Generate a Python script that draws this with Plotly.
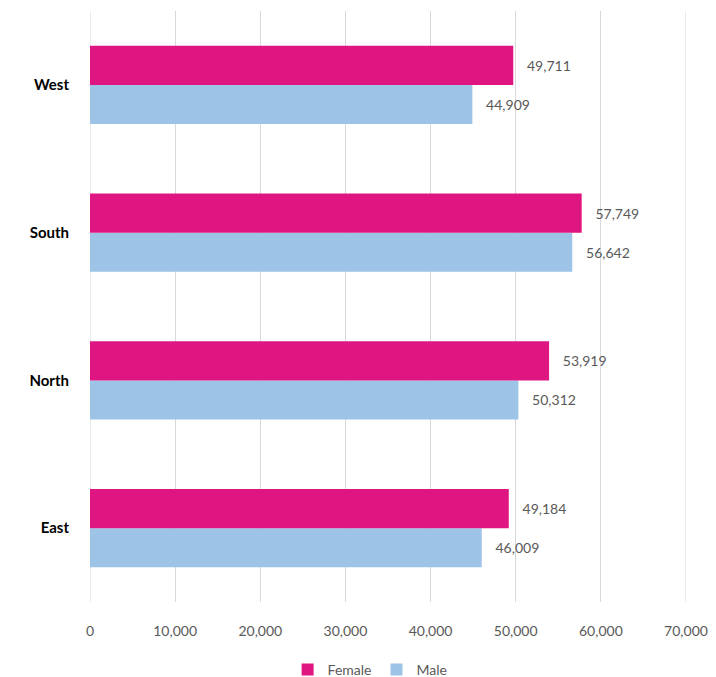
import plotly.graph_objects as go

regions = ["East", "North", "South", "West"]
female = [49184, 53919, 57749, 49711]
male = [46009, 50312, 56642, 44909]
x_ticks = [0, 10000, 20000, 30000, 40000, 50000, 60000, 70000]

FEMALE_COLOR = "#DF1681"
MALE_COLOR = "#9DC3E6"
TEXT_GRAY = "#595959"
GRID_GRAY = "#D9D9D9"
FONT = "Lato, Carlito, Calibri, sans-serif"

fig = go.Figure()

# Male first so Female sits on top within each region group
fig.add_trace(go.Bar(
    y=regions, x=male, name="Male", orientation="h",
    marker=dict(color=MALE_COLOR, line=dict(width=0)),
    texttemplate="\u00a0\u00a0\u00a0%{x:,}", textposition="outside",
    textfont=dict(size=14, color=TEXT_GRAY, family=FONT),
    cliponaxis=False,
))
fig.add_trace(go.Bar(
    y=regions, x=female, name="Female", orientation="h",
    marker=dict(color=FEMALE_COLOR, line=dict(width=0)),
    texttemplate="\u00a0\u00a0\u00a0%{x:,}", textposition="outside",
    textfont=dict(size=14, color=TEXT_GRAY, family=FONT),
    cliponaxis=False,
))

fig.update_layout(
    width=716, height=677,
    margin=dict(l=90, r=30, t=11, b=75, autoexpand=False),
    paper_bgcolor="white", plot_bgcolor="white",
    barmode="group", bargap=0.47, bargroupgap=0,
    font=dict(family=FONT, color=TEXT_GRAY),
    showlegend=True,
    legend=dict(
        orientation="h", traceorder="reversed",
        x=0.47, xanchor="center", y=-0.115, yanchor="middle",
        font=dict(size=14, color=TEXT_GRAY, family=FONT),
        itemwidth=30,
    ),
    xaxis=dict(
        range=[0, 70000], tickvals=x_ticks, tickformat=",",
        showgrid=True, gridcolor=GRID_GRAY, gridwidth=1,
        zeroline=False, showline=False, automargin=False,
        ticks="outside", ticklen=16, tickcolor="rgba(0,0,0,0)",
        tickfont=dict(size=14, color=TEXT_GRAY, family=FONT),
        fixedrange=True,
    ),
    yaxis=dict(
        showgrid=False, zeroline=False, showline=False, automargin=False,
        ticks="outside", ticklen=17, tickcolor="rgba(0,0,0,0)",
        tickfont=dict(size=15, color="#000000", family=FONT, weight="bold"),
        fixedrange=True,
    ),
)

# Gridlines at both ends of the value range
for xv in (x_ticks[0], x_ticks[-1]):
    fig.add_shape(type="line", xref="x", yref="paper", x0=xv, x1=xv, y0=0, y1=1,
                  line=dict(color=GRID_GRAY, width=1), layer="below")

fig.write_html("out.html")
